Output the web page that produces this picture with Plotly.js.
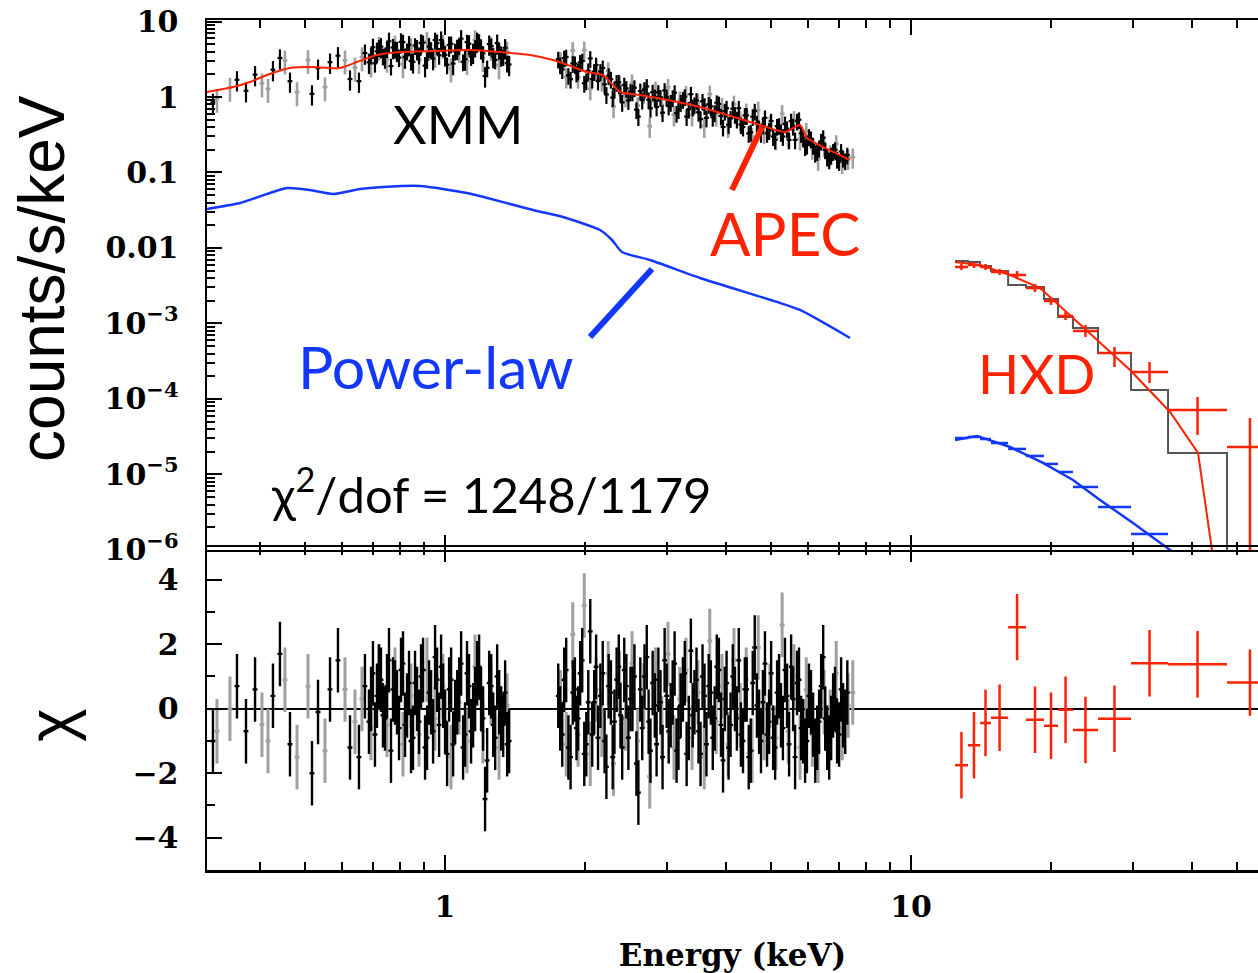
<!DOCTYPE html>
<html>
<head>
<meta charset="utf-8">
<script src="https://cdn.plot.ly/plotly-3.0.1.min.js"></script>
<style>body{margin:0;background:#fff}</style>
</head>
<body>
<div id="chart" style="width:1258px;height:973px"></div>
<script>
// ---------------- XMM data (black set) ----------------
const pn1E = [0.3177,0.3578,0.3741,0.3912,0.4274,0.4424,0.4649,0.5183,0.5340,0.5666,0.5893,0.6254,0.6537,0.6733,0.6868,0.7005,0.7145,0.7288,0.7434,0.7583,0.7734,0.7889,0.8047,0.8208,0.8372,0.8539,0.8710,0.8884,0.9062,0.9243,0.9428,0.9617,0.9809,1.0005,1.0205,1.041,1.062,1.083,1.104,1.126,1.149,1.172,1.195,1.219,1.244,1.269,1.294,1.320,1.346,1.373];
const pn1C = [0.85,1.69,1.21,1.98,2.30,3.29,1.62,1.10,2.41,2.89,3.52,1.73,1.62,3.81,2.88,4.56,4.03,4.64,3.38,5.47,4.52,4.13,5.37,3.37,4.93,2.92,4.37,5.20,2.60,4.66,3.22,5.18,5.68,3.62,4.86,2.77,4.41,5.92,3.18,5.07,3.91,5.49,4.47,1.90,5.02,3.42,5.17,3.59,4.49,2.70];
const pn1R = [-1.0,0.7,-0.7,0.6,0.4,1.7,-1.1,-2.0,-0.1,0.6,1.5,-1.2,-1.5,0.7,-0.4,1.1,0.4,0.9,-0.3,1.5,0.6,0.2,1.2,-0.5,0.8,-0.9,0.3,1.0,-1.2,0.5,-0.7,0.9,1.3,-0.4,0.6,-1.1,0.2,1.4,-0.8,0.7,-0.2,1.1,0.3,-2.8,0.8,-0.5,1.0,-0.3,0.5,-1.0];

const pn1bE = [0.694,0.7075,0.7216,0.736,0.7508,0.7658,0.7811,0.7968,0.8127,0.829,0.8455,0.8624,0.8797,0.8973,0.9152,0.9335,0.9522,0.9713,0.9907,1.0105,1.0307,1.0515,1.0725,1.0935,1.115,1.1375,1.1605,1.1835,1.207,1.2315,1.2565,1.2815,1.307,1.333,1.3595];
const pn1bC = [3.60,2.80,4.53,3.50,4.39,2.57,4.34,3.33,5.33,4.07,2.99,4.80,3.61,5.24,3.13,4.26,5.70,3.57,4.51,2.67,5.06,4.05,4.78,2.93,5.34,3.44,4.46,5.46,3.77,2.43,4.74,3.10,4.16,3.43,2.81];
const pn1bR = [0.3,-0.8,1.0,-0.2,0.7,-1.3,0.5,-0.6,1.4,0.1,-1.0,0.8,-0.4,1.2,-0.9,0.2,1.6,-0.5,0.4,-1.4,0.9,-0.1,0.6,-1.2,1.1,-0.7,0.3,1.3,-0.3,-1.6,0.7,-0.9,0.2,-0.5,-1.1];

const pn2E = [1.75,1.785,1.82,1.86,1.90,1.93,1.97,2.01,2.05,2.09,2.13,2.18,2.22,2.27,2.31,2.36,2.40,2.45,2.50,2.55,2.60,2.65,2.71,2.76,2.82,2.87,2.93,2.99,3.05,3.11,3.17,3.24,3.30,3.37,3.43,3.50,3.57,3.64,3.72,3.79,3.87,3.95,4.02,4.10,4.19,4.27,4.36,4.44,4.53,4.62,4.72,4.81,4.91,5.01,5.11,5.21,5.31,5.42,5.53,5.64,5.75,5.87,5.98,6.10,6.23,6.35,6.48,6.61,6.74,6.87,7.01,7.15,7.30];
const pn2C = [3.18,2.31,3.39,1.72,2.76,2.21,2.99,1.64,3.24,2.17,1.63,2.43,1.08,1.72,1.28,1.57,0.85,1.30,1.18,1.33,0.55,0.91,1.38,0.71,1.00,1.15,0.62,0.99,0.85,1.14,0.68,0.93,0.55,1.09,0.79,0.63,0.88,0.53,0.75,0.62,0.81,0.40,0.71,0.52,0.59,0.71,0.40,0.57,0.34,0.65,0.39,0.43,0.33,0.48,0.27,0.42,0.30,0.38,0.48,0.27,0.50,0.29,0.23,0.28,0.18,0.21,0.29,0.16,0.17,0.20,0.14,0.155,0.17];
const pn2R = [0.4,-0.8,1.2,-1.5,0.6,-0.3,1.5,-1.1,2.4,0.2,-0.9,1.1,-1.8,0.5,-0.4,1.3,-1.2,0.7,0.3,1.0,-2.6,-0.6,1.6,-1.3,0.1,0.9,-1.5,0.4,-0.2,1.4,-0.9,0.6,-1.4,1.8,0.2,-0.7,1.0,-1.1,0.5,-0.3,1.2,-1.6,0.8,-0.5,0.3,1.5,-1.0,0.6,-1.3,1.9,-0.4,0.2,-0.8,1.1,-1.2,0.7,-0.6,0.4,1.3,-1.5,0.9,-0.7,-1.0,0.2,-1.3,-0.4,1.6,-0.9,-0.6,0.3,-0.8,-0.2,0.5];

const pn2bE = [1.767,1.802,1.84,1.88,1.915,1.95,1.99,2.03,2.07,2.11,2.155,2.20,2.245,2.29,2.335,2.38,2.425,2.475,2.525,2.575,2.625,2.68,2.735,2.79,2.845,2.90,2.96,3.02,3.08,3.14,3.205,3.27,3.335,3.40,3.465,3.535,3.605,3.68,3.755,3.83,3.91,3.985,4.06,4.145,4.23,4.315,4.40,4.485,4.575,4.67,4.765,4.86,4.96,5.06,5.16,5.26,5.365,5.475,5.585,5.695,5.81,5.925,6.04,6.165,6.29,6.415,6.545,6.675,6.805,6.94,7.08,7.225];
const pn2bC = [2.67,3.28,1.93,2.78,2.08,2.87,1.52,2.23,1.73,2.65,2.18,1.47,1.92,0.98,1.56,1.13,1.44,0.90,1.17,0.68,1.20,1.26,0.92,1.16,0.74,0.99,1.22,0.76,0.98,0.61,0.85,1.01,0.69,0.74,0.90,0.51,0.77,0.80,0.54,0.84,0.56,0.65,0.43,0.70,0.51,0.43,0.57,0.33,0.55,0.45,0.33,0.53,0.36,0.30,0.41,0.34,0.44,0.27,0.41,0.48,0.33,0.22,0.30,0.23,0.19,0.26,0.20,0.147,0.19,0.15,0.19,0.143];
const pn2bR = [-0.3,0.9,-1.2,0.5,-0.6,1.1,-1.4,0.2,-0.8,1.3,0.4,-1.0,0.7,-1.5,0.9,-0.2,1.2,-0.9,0.3,-1.7,0.6,1.0,-0.4,0.8,-1.1,0.2,1.5,-0.7,0.5,-1.3,0.1,1.1,-0.6,-0.2,0.9,-1.4,0.4,0.7,-0.9,1.3,-0.5,0.3,-1.2,1.0,-0.3,-0.8,0.6,-1.5,0.8,0.1,-1.0,1.4,-0.4,-0.9,0.5,-0.2,1.2,-1.1,0.3,0.8,-0.6,-1.3,0.4,-0.5,-0.9,0.7,-0.3,-1.2,0.1,-0.7,0.6,-0.4];

// ---------------- XMM data (grey set) ----------------
const mos1E = [0.3241,0.3456,0.4048,0.4171,0.4535,0.4814,0.5082,0.5527,0.6101,0.6410,0.6636,0.6937,0.7218,0.7508,0.7810,0.8125,0.8452,0.8795,0.9149,0.9517,0.9901,1.030,1.072,1.115,1.160,1.206,1.255,1.306,1.359];
const mos1C = [0.95,1.33,1.52,1.28,3.06,1.16,3.10,1.35,3.06,2.45,3.37,2.79,4.65,3.22,4.83,2.73,4.43,3.11,5.40,3.73,4.90,2.40,4.39,3.02,5.66,3.30,4.61,2.63,3.99];
const mos1R = [-0.7,0.0,-0.5,-1.0,0.9,-1.5,0.7,-1.3,0.6,-0.4,0.3,-0.6,1.0,-0.5,0.9,-1.1,0.4,-0.8,1.2,-0.3,0.7,-1.5,0.2,-1.0,1.3,-0.7,0.5,-1.2,0.1];

const mos2E = [1.77,1.82,1.88,1.93,1.99,2.05,2.11,2.17,2.24,2.30,2.37,2.44,2.52,2.59,2.67,2.75,2.83,2.92,3.01,3.10,3.19,3.29,3.39,3.49,3.60,3.70,3.82,3.93,4.05,4.17,4.30,4.43,4.56,4.70,4.84,4.98,5.13,5.29,5.45,5.61,5.78,5.96,6.14,6.32,6.51,6.71,6.91,7.12,7.33,7.50];
const mos2C = [3.01,1.85,4.11,1.84,4.17,1.29,2.39,1.69,2.22,0.75,1.46,1.04,1.53,0.77,1.16,0.41,1.23,0.78,1.34,0.58,0.91,1.08,0.58,0.85,0.41,1.09,0.58,0.75,0.41,0.80,0.50,0.63,0.30,0.67,0.34,0.43,0.28,0.60,0.29,0.50,0.28,0.35,0.21,0.15,0.23,0.176,0.24,0.137,0.154,0.16];
const mos2R = [0.2,-1.1,2.3,-0.8,3.2,-1.4,0.6,-0.5,1.1,-1.7,0.8,-0.3,1.4,-1.0,0.4,-2.1,0.9,-0.6,1.7,-1.2,0.3,1.2,-0.9,0.5,-1.5,2.1,-0.4,0.7,-1.1,1.5,-0.2,0.9,-1.3,1.9,-0.6,0.4,-0.9,2.6,-0.7,1.0,-1.2,0.6,-0.8,-1.3,0.2,-0.4,1.1,-0.6,0.1,0.5];

// ---------------- XMM models ----------------
const apecE = [0.3085,0.3508,0.3815,0.415,0.4649,0.5131,0.5951,0.6473,0.7146,0.8005,0.9424,1.115,1.3122,1.5218,1.7055,1.8826,2.0172,2.183,2.3744,2.6213,3.5262,4.7424,5.3656,5.7783,5.9813,6.4745,7.396];
const apecV = [1.165,1.357,1.58,1.956,2.422,2.497,2.422,2.908,3.6,3.945,4.068,4.194,3.945,3.6,3.09,2.497,2.144,1.956,1.165,1.063,0.737,0.426,0.344,0.426,0.286,0.218,0.146];
const plE = [0.3085,0.3632,0.4581,0.5131,0.575,0.6572,0.7362,0.8839,1.115,1.5446,1.7914,2.1509,2.2823,2.3981,2.7542,3.5262,5.1585,5.7783,7.396];
const plV = [0.0329,0.0394,0.0623,0.0586,0.0519,0.0605,0.0643,0.0663,0.0535,0.0319,0.0257,0.0173,0.01276,0.00885,0.00693,0.00401,0.00193,0.00151,0.000643];

// ---------------- HXD ----------------
const hxdE  = [12.83,13.65,14.45,15.49,16.89,18.45,19.97,21.46,23.68,27.33,32.50,41.19,53.38];
const hxdLo = [12.43,13.25,14.07,14.85,16.16,17.65,19.29,20.68,22.26,25.19,29.66,35.61,47.65];
const hxdHi = [13.25,14.07,14.85,16.16,17.65,19.29,20.68,22.26,25.19,29.66,35.61,47.65,59.8];
const hxdC  = [5.60e-3,5.95e-3,5.60e-3,4.81e-3,4.39e-3,2.95e-3,1.99e-3,1.257e-3,7.96e-4,4.07e-4,2.28e-4,7.15e-5,2.31e-5];
const hxdUp = [5.4e-4,5.7e-4,5.4e-4,4.6e-4,5.7e-4,3.8e-4,2.6e-4,1.6e-4,1.6e-4,8.2e-5,8.1e-5,3.48e-5,3.29e-5];
const hxdDn = [4.9e-4,5.2e-4,4.9e-4,4.2e-4,5.0e-4,3.4e-4,2.3e-4,1.45e-4,1.33e-4,1.42e-4,6.5e-5,3.81e-5,2.29e-5];
const hxdModel = [6.73e-3,6.53e-3,5.78e-3,4.96e-3,3.24e-3,3.04e-3,2.11e-3,1.22e-3,8.72e-4,4.07e-4,1.316e-4,1.93e-5,3e-7];
const hxdPLbin = [3.04e-5,3.14e-5,2.95e-5,2.61e-5,2.18e-5,1.76e-5,1.38e-5,1.08e-5,6.83e-6,3.71e-6,1.63e-6,4.0e-7,1e-7];
const hxdR  = [-1.75,-1.13,-0.44,-0.28,2.53,-0.34,-0.53,-0.03,-0.66,-0.31,1.41,1.38,0.81];
const hxdApecE = [12.43,14.07,16.31,18.92,22.26,25.44,29.51,35.96,41.29,44.24,44.9];
const hxdApecV = [6.53e-3,5.95e-3,4.39e-3,2.95e-3,1.18e-3,5.52e-4,2.42e-4,6.73e-5,1.93e-5,1.0e-6,2.2e-7];
const hxdPlE = [12.43,13.86,16.31,19.2,22.26,25.44,29.95,35.96,37.8];
const hxdPlV = [2.86e-5,3.24e-5,2.31e-5,1.42e-5,8.46e-6,4.6e-6,2.28e-6,1.0e-6,8.3e-7];

// ---------------- ticks ----------------
const yTopVals = [1e-6,1e-5,1e-4,1e-3,0.01,0.1,1,10];
const yTopText = ['10<sup>\u22126</sup>','10<sup>\u22125</sup>','10<sup>\u22124</sup>','10<sup>\u22123</sup>','0.01','0.1','1','10'];
const yBotVals = [-4,-2,0,2,4];
const yBotText = ['\u22124','\u22122','0','2','4'];
const yBotMinor = [-3,-1,1,3];
const xVals = [1,10];
const xText = ['1','10'];
const xMinor = [0.4,0.5,0.6,0.7,0.8,0.9,2,3,4,5,6,7,8,9,20,30,40,50];
const yTopMinor = [];
for (let d = -6; d <= 0; d++) for (let m = 2; m <= 9; m++) yTopMinor.push(m * Math.pow(10, d));

// ---------------- styles ----------------
const RED = '#ff2200', BLUE = '#1238ff', GREY = '#a0a0a0';
const serif = {family: 'DejaVu Serif', size: 30, color: '#000', weight: 700};

function specTrace(E, C, pct, color, w) {
  return {x: E, y: C, xaxis: 'x', yaxis: 'y', mode: 'markers', type: 'scatter',
    marker: {size: 1, color: color},
    error_y: {type: 'percent', value: pct, color: color, thickness: w, width: 0},
    error_x: {type: 'percent', value: 1.2, color: color, thickness: w, width: 0},
    showlegend: false, hoverinfo: 'skip'};
}
function residTrace(E, R, color, w) {
  return {x: E, y: R, xaxis: 'x2', yaxis: 'y2', mode: 'markers', type: 'scatter',
    marker: {size: 1, color: color},
    error_y: {type: 'constant', value: 1, color: color, thickness: w, width: 0},
    error_x: {type: 'percent', value: 1.2, color: color, thickness: w, width: 0},
    showlegend: false, hoverinfo: 'skip'};
}
const last = hxdHi.length - 1;
const binPlus = hxdE.map((c, i) => hxdHi[i] - c);
const binMinus = hxdE.map((c, i) => c - hxdLo[i]);
const traces = [
  specTrace(mos1E, mos1C, 35, GREY, 2.6),
  specTrace(mos2E, mos2C, 30, GREY, 2.6),
  specTrace(pn1E, pn1C, 30, '#000', 2.2),
  specTrace(pn1bE, pn1bC, 25, '#000', 2.2),
  specTrace(pn2E, pn2C, 25, '#000', 2.2),
  specTrace(pn2bE, pn2bC, 25, '#000', 2.2),
  {x: apecE, y: apecV, xaxis: 'x', yaxis: 'y', mode: 'lines', line: {color: RED, width: 2, shape: 'spline', smoothing: 0.6}, showlegend: false, hoverinfo: 'skip'},
  {x: plE, y: plV, xaxis: 'x', yaxis: 'y', mode: 'lines', line: {color: BLUE, width: 2.5, shape: 'spline', smoothing: 0.6}, showlegend: false, hoverinfo: 'skip'},
  {x: hxdLo.concat([hxdHi[last]]), y: hxdModel.concat([hxdModel[last]]), xaxis: 'x', yaxis: 'y', mode: 'lines', line: {color: '#555', width: 2, shape: 'hv'}, showlegend: false, hoverinfo: 'skip'},
  {x: hxdApecE, y: hxdApecV, xaxis: 'x', yaxis: 'y', mode: 'lines', line: {color: RED, width: 2}, showlegend: false, hoverinfo: 'skip'},
  {x: hxdPlE, y: hxdPlV, xaxis: 'x', yaxis: 'y', mode: 'lines', line: {color: BLUE, width: 2.5}, showlegend: false, hoverinfo: 'skip'},
  {x: hxdE, y: hxdPLbin, xaxis: 'x', yaxis: 'y', mode: 'markers', marker: {size: 1, color: BLUE},
    error_x: {type: 'data', symmetric: false, array: binPlus, arrayminus: binMinus, color: BLUE, thickness: 2.5, width: 0},
    showlegend: false, hoverinfo: 'skip'},
  {x: hxdE, y: hxdC, xaxis: 'x', yaxis: 'y', mode: 'markers', marker: {size: 1, color: RED},
    error_x: {type: 'data', symmetric: false, array: binPlus, arrayminus: binMinus, color: RED, thickness: 2.5, width: 0},
    error_y: {type: 'data', symmetric: false, array: hxdUp, arrayminus: hxdDn, color: RED, thickness: 2.5, width: 0},
    showlegend: false, hoverinfo: 'skip'},
  residTrace(mos1E, mos1R, GREY, 3),
  residTrace(mos2E, mos2R, GREY, 3),
  residTrace(pn1E, pn1R, '#000', 2.4),
  residTrace(pn1bE, pn1bR, '#000', 2.4),
  residTrace(pn2E, pn2R, '#000', 2.4),
  residTrace(pn2bE, pn2bR, '#000', 2.4),
  {x: hxdE, y: hxdR, xaxis: 'x2', yaxis: 'y2', mode: 'markers', marker: {size: 1, color: RED},
    error_x: {type: 'data', symmetric: false, array: binPlus, arrayminus: binMinus, color: RED, thickness: 2.5, width: 0},
    error_y: {type: 'constant', value: 1.03, color: RED, thickness: 2.5, width: 0},
    showlegend: false, hoverinfo: 'skip'},
  // empty traces that carry the minor-tick overlay axes
  {x: [], y: [], xaxis: 'x3', yaxis: 'y', showlegend: false},
  {x: [], y: [], xaxis: 'x', yaxis: 'y3', showlegend: false},
  {x: [], y: [], xaxis: 'x4', yaxis: 'y2', showlegend: false},
  {x: [], y: [], xaxis: 'x2', yaxis: 'y4', showlegend: false}
];

const xRange = [-0.5107, 1.7446];
const PH = 850;                      // plot height in px
const topDom = [0.3765, 1];
const botDom = [0, 0.3765 + 2.5 / PH];
function xAxis(anchor, labels) {
  return {anchor: anchor, type: 'log', range: xRange, domain: [0, 1],
    tickmode: 'array', tickvals: xVals, ticktext: xText, showticklabels: labels,
    ticks: 'inside', ticklen: 15, tickwidth: 2, tickcolor: '#000',
    showline: true, linewidth: 2.5, linecolor: '#000', mirror: 'ticks',
    showgrid: false, zeroline: false, tickfont: serif, ticklabelstandoff: 8};
}
function minorX(over, anchor) {
  return {overlaying: over, anchor: anchor, type: 'log', range: xRange, domain: [0, 1],
    tickmode: 'array', tickvals: xMinor, showticklabels: false,
    ticks: 'inside', ticklen: 8, tickwidth: 2, tickcolor: '#000',
    showline: true, linewidth: 2.5, linecolor: '#000', mirror: 'ticks',
    showgrid: false, zeroline: false};
}
const xa2 = xAxis('y2', true);
xa2.title = {text: 'Energy (keV)', font: {family: 'DejaVu Serif', size: 31, color: '#000', weight: 700}, standoff: 22};

const layout = {
  width: 1258, height: 973,
  margin: {l: 207, r: 0, t: 20, b: 103},
  paper_bgcolor: '#fff', plot_bgcolor: 'rgba(0,0,0,0)',
  showlegend: false,
  xaxis: xAxis('y', false),
  xaxis2: xa2,
  xaxis3: minorX('x', 'y'),
  xaxis4: minorX('x2', 'y2'),
  yaxis: {anchor: 'x', domain: topDom, type: 'log', range: [-6, 1.0199],
    tickmode: 'array', tickvals: yTopVals, ticktext: yTopText,
    ticks: 'inside', ticklen: 15, tickwidth: 2, tickcolor: '#000',
    showline: true, linewidth: 2.5, linecolor: '#000', showgrid: false, zeroline: false,
    tickfont: serif, ticklabelstandoff: 20},
  yaxis3: {overlaying: 'y', anchor: 'x', domain: topDom, type: 'log', range: [-6, 1.0199],
    tickmode: 'array', tickvals: yTopMinor, showticklabels: false,
    ticks: 'inside', ticklen: 8, tickwidth: 2, tickcolor: '#000',
    showline: false, showgrid: false, zeroline: false},
  yaxis2: {anchor: 'x2', domain: botDom, range: [-5, 5],
    tickmode: 'array', tickvals: yBotVals, ticktext: yBotText,
    ticks: 'inside', ticklen: 15, tickwidth: 2, tickcolor: '#000',
    showline: true, linewidth: 2.5, linecolor: '#000', showgrid: false,
    zeroline: true, zerolinecolor: '#000', zerolinewidth: 2,
    tickfont: serif, ticklabelstandoff: 20},
  yaxis4: {overlaying: 'y2', anchor: 'x2', domain: botDom, range: [-5, 5],
    tickmode: 'array', tickvals: yBotMinor, showticklabels: false,
    ticks: 'inside', ticklen: 8, tickwidth: 2, tickcolor: '#000',
    showline: false, showgrid: false, zeroline: false},
  annotations: [
    {xref: 'paper', yref: 'paper', x: -0.157, y: 0.6965, text: 'counts/s/keV', textangle: -90, showarrow: false,
     xanchor: 'center', yanchor: 'middle', font: {family: 'Liberation Sans', size: 64, color: '#000'}},
    {xref: 'paper', yref: 'paper', x: -0.1484, y: 0.1706, text: '\u03c7', textangle: -90, showarrow: false,
     xanchor: 'center', yanchor: 'middle', font: {family: 'Liberation Sans', size: 64, color: '#000'}},
    {xref: 'paper', yref: 'paper', x: 0.2388, y: 0.8776, text: 'XMM', showarrow: false,
     xanchor: 'center', yanchor: 'middle', font: {family: 'Lato', size: 52, color: '#000'}},
    {xref: 'paper', yref: 'paper', x: 0.55, y: 0.7494, text: 'APEC', showarrow: false,
     xanchor: 'center', yanchor: 'middle', font: {family: 'Lato', size: 60, color: RED}},
    {xref: 'paper', yref: 'paper', x: 0.2179, y: 0.5918, text: 'Power-law', showarrow: false,
     xanchor: 'center', yanchor: 'middle', font: {family: 'Lato', size: 59, color: BLUE}},
    {xref: 'paper', yref: 'paper', x: 0.7888, y: 0.5847, text: 'HXD', showarrow: false,
     xanchor: 'center', yanchor: 'middle', font: {family: 'Lato', size: 54, color: RED}},
    {xref: 'paper', yref: 'paper', x: 0.2702, y: 0.4459, text: '\u03c7<sup>2</sup>/dof = 1248/1179', showarrow: false,
     xanchor: 'center', yanchor: 'middle', font: {family: 'Lato', size: 49, color: '#000'}}
  ],
  shapes: [
    {type: 'line', xref: 'paper', yref: 'paper', x0: 0.4995, y0: 0.8, x1: 0.5281, y1: 0.8741, line: {color: RED, width: 6}},
    {type: 'line', xref: 'paper', yref: 'paper', x0: 0.3644, y0: 0.6271, x1: 0.4234, y1: 0.7071, line: {color: BLUE, width: 6}}
  ]
};

Plotly.newPlot('chart', traces, layout, {displayModeBar: false, staticPlot: true});
</script>
</body>
</html>
